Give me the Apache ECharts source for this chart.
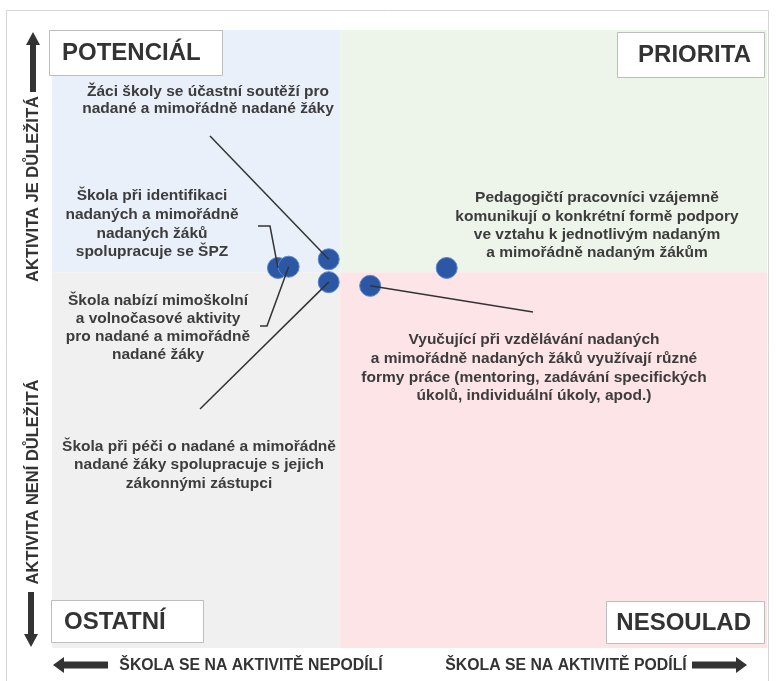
<!DOCTYPE html>
<html><head><meta charset="utf-8">
<script src="https://cdn.jsdelivr.net/npm/echarts@6/dist/echarts.min.js"></script>
<style>html,body{margin:0;padding:0;background:#fff}#c{width:776px;height:681px}</style>
</head><body><div id="c"></div><script>
// ---- data ----
const activities = [
  'Škola při identifikaci nadaných a mimořádně nadaných žáků spolupracuje se ŠPZ',
  'Škola nabízí mimoškolní a volnočasové aktivity pro nadané a mimořádně nadané žáky',
  'Žáci školy se účastní soutěží pro nadané a mimořádně nadané žáky',
  'Škola při péči o nadané a mimořádně nadané žáky spolupracuje s jejich zákonnými zástupci',
  'Vyučující při vzdělávání nadaných a mimořádně nadaných žáků využívají různé formy práce (mentoring, zadávání specifických úkolů, individuální úkoly, apod.)',
  'Pedagogičtí pracovníci vzájemně komunikují o konkrétní formě podpory ve vztahu k jednotlivým nadaným a mimořádně nadaným žákům'
];
const participation = [31.6, 33.1, 38.7, 38.7, 44.5, 55.2];
const importance = [61.5, 61.7, 62.9, 59.2, 58.6, 61.5];
const xSplit = 40.3;
const ySplit = 60.8;
const quadrantNames = ['POTENCIÁL', 'PRIORITA', 'OSTATNÍ', 'NESOULAD'];
const yAxisTexts = ['AKTIVITA JE DŮLEŽITÁ', 'AKTIVITA NENÍ DŮLEŽITÁ'];
const xAxisTexts = ['ŠKOLA SE NA AKTIVITĚ NEPODÍLÍ', 'ŠKOLA SE NA AKTIVITĚ PODÍLÍ'];
const annotationLines = [
  'Škola při identifikaci\nnadaných a mimořádně\nnadaných žáků\nspolupracuje se ŠPZ',
  'Škola nabízí mimoškolní\na volnočasové aktivity\npro nadané a mimořádně\nnadané žáky',
  'Žáci školy se účastní soutěží pro\nnadané a mimořádně nadané žáky',
  'Škola při péči o nadané a mimořádně\nnadané žáky spolupracuje s jejich\nzákonnými zástupci',
  'Vyučující při vzdělávání nadaných\na mimořádně nadaných žáků využívají různé\nformy práce (mentoring, zadávání specifických\núkolů, individuální úkoly, apod.)',
  'Pedagogičtí pracovníci vzájemně\nkomunikují o konkrétní formě podpory\nve vztahu k jednotlivým nadaným\na mimořádně nadaným žákům'
];

const FONT = '"Liberation Sans", Arial, sans-serif';
const TXT = '#3c3c3c';
const chart = echarts.init(document.getElementById('c'));

const option = {
  animation: false,
  backgroundColor: '#fff',
  grid: { left: 52, right: 9, top: 30, bottom: 33 },
  xAxis: { type: 'value', min: 0, max: 100, show: false },
  yAxis: { type: 'value', min: 0, max: 100, show: false },
  series: [{
    type: 'scatter',
    symbolSize: 21,
    z: 5,
    itemStyle: { color: '#2C57A5', borderColor: '#5A86CF', borderWidth: 1, opacity: 1 },
    data: participation.map((x, i) => ({ value: [x, importance[i]], name: activities[i] })),
    markArea: {
      silent: true,
      data: [
        [{ xAxis: 0, yAxis: ySplit, itemStyle: { color: '#EAF0FA' } }, { xAxis: xSplit, yAxis: 100 }],
        [{ xAxis: xSplit, yAxis: ySplit, itemStyle: { color: '#EDF5EA' } }, { xAxis: 100, yAxis: 100 }],
        [{ xAxis: 0, yAxis: 0, itemStyle: { color: '#F0F0F0' } }, { xAxis: xSplit, yAxis: ySplit }],
        [{ xAxis: xSplit, yAxis: 0, itemStyle: { color: '#FDE5E7' } }, { xAxis: 100, yAxis: ySplit }]
      ]
    }
  }]
};
chart.setOption(option);

const P = participation.map((x, i) => chart.convertToPixel({ seriesIndex: 0 }, [x, importance[i]]));

function txt(text, x, y, opts) {
  return Object.assign({
    type: 'text', z: 20,
    style: Object.assign({ text, x, y, fill: TXT, textAlign: 'center', textVerticalAlign: 'middle',
      font: 'bold 15.5px ' + FONT }, opts && opts.style || {})
  }, opts && opts.el || {});
}
function line(points) {
  return { type: 'polyline', z: 15, shape: { points }, style: { stroke: '#333', lineWidth: 1.5, fill: null } };
}
function box(x, y, w, h, label, align) {
  return [
    { type: 'rect', z: 10, shape: { x: x + 0.5, y: y + 0.5, width: w, height: h },
      style: { fill: '#fff', stroke: '#bdbdbd', lineWidth: 1 } },
    txt(label, align === 'right' ? x + w - 13 : x + 13, y + h / 2 + 1,
      { style: { textAlign: align, font: 'bold 24px ' + FONT, fill: '#333' } })
  ];
}
const arrowColor = '#333';
const graphics = [
  { type: 'rect', z: 0, shape: { x: 6.5, y: 10.5, width: 762, height: 700 },
    style: { fill: null, stroke: '#d6d6d6', lineWidth: 1 } },
  ...box(49, 30, 173, 45, quadrantNames[0], 'left'),
  ...box(617, 32, 147, 45, quadrantNames[1], 'right'),
  ...box(51, 600, 152, 42, quadrantNames[2], 'left'),
  ...box(606, 601, 158, 42, quadrantNames[3], 'right'),
  // vertical arrows
  { type: 'polygon', z: 10, shape: { points: [[33, 32], [40, 45], [36, 45], [36, 92], [30, 92], [30, 45], [26, 45]] }, style: { fill: arrowColor } },
  { type: 'polygon', z: 10, shape: { points: [[31, 647], [38, 634], [34, 634], [34, 592], [28, 592], [28, 634], [24, 634]] }, style: { fill: arrowColor } },
  // horizontal arrows
  { type: 'polygon', z: 10, shape: { points: [[53, 665], [64, 657], [64, 661.5], [108, 661.5], [108, 668.5], [64, 668.5], [64, 673]] }, style: { fill: arrowColor } },
  { type: 'polygon', z: 10, shape: { points: [[747, 665], [736, 657], [736, 661.5], [692, 661.5], [692, 668.5], [736, 668.5], [736, 673]] }, style: { fill: arrowColor } },
  txt(yAxisTexts[0], 0, 0, { el: { x: 33, y: 189, rotation: Math.PI / 2 }, style: { font: 'bold 16.5px ' + FONT, fill: '#333' } }),
  txt(yAxisTexts[1], 0, 0, { el: { x: 33, y: 482, rotation: Math.PI / 2 }, style: { font: 'bold 16.5px ' + FONT, fill: '#333' } }),
  txt(xAxisTexts[0], 251, 666, { style: { font: 'bold 15.8px ' + FONT, fill: '#333' } }),
  txt(xAxisTexts[1], 566, 666, { style: { font: 'bold 15.8px ' + FONT, fill: '#333' } }),
  // annotations
  txt(annotationLines[0], 152, 224, { style: { lineHeight: 18.7 } }),
  txt(annotationLines[1], 158, 328, { style: { lineHeight: 18 } }),
  txt(annotationLines[2], 208, 100, { style: { lineHeight: 17 } }),
  txt(annotationLines[3], 199, 465, { style: { lineHeight: 18.5 } }),
  txt(annotationLines[4], 534, 368, { style: { lineHeight: 18.7 } }),
  txt(annotationLines[5], 597, 225.5, { style: { lineHeight: 18.3 } }),
  // leader lines
  line([[258, 226], [270, 226], P[0]]),
  line([P[1], [267, 326], [260, 326]]),
  line([[210, 136], P[2]]),
  line([[200, 409], P[3]]),
  line([P[4], [533, 312]])
];
chart.setOption({ graphic: graphics });
</script></body></html>
